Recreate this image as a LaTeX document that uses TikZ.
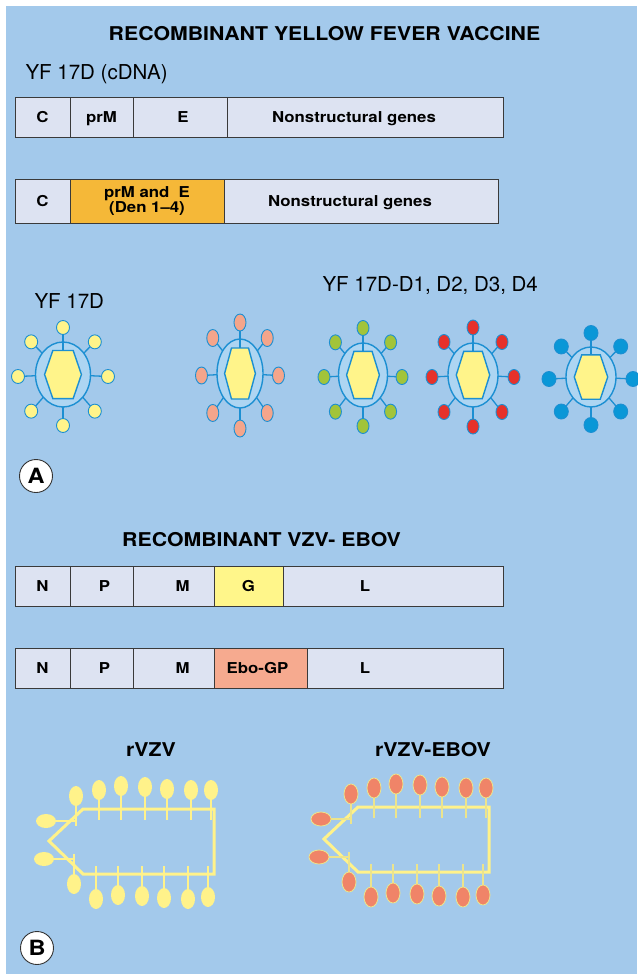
\documentclass[tikz,border=0pt]{standalone}
\usepackage{fontspec}
\setmainfont{TeX Gyre Heros}
\newfontfamily\boldheros[FakeStretch=1.12]{TeX Gyre Heros}
\usetikzlibrary{positioning}

\definecolor{bgBlue}{HTML}{A3C9EB}
\definecolor{envBlue}{HTML}{1C8FD2}
\definecolor{envFill}{HTML}{ADD5F2}
\definecolor{capsidYellow}{HTML}{FFF48A}
\definecolor{geneFill}{HTML}{DDE3F2}
\definecolor{geneLine}{HTML}{3A3A3A}
\definecolor{denOrange}{HTML}{F5B838}
\definecolor{gYellow}{HTML}{FFF68A}
\definecolor{eboSalmon}{HTML}{F6AA8F}
\definecolor{spikeSalmon}{HTML}{F4A58B}
\definecolor{spikeGreen}{HTML}{A2C43A}
\definecolor{spikeRed}{HTML}{E6312B}
\definecolor{spikeBlue}{HTML}{0A97D7}
\definecolor{vzvYellow}{HTML}{FFF28A}
\definecolor{eboSpike}{HTML}{F08468}
\definecolor{eboStem}{HTML}{ECE48C}

\tikzset{
    gene/.style={draw=geneLine, fill=geneFill, line width=1pt, minimum height=40,
        inner sep=0pt, outer sep=0pt, align=center, text height=10.5, text depth=0,
        font=\boldheros\bfseries\fontsize{15}{16}\selectfont},
    geneLabel/.style={text height=10.5, text depth=0, inner sep=0pt,
        font=\boldheros\bfseries\fontsize{15}{16}\selectfont},
    heading/.style={font=\boldheros\bfseries\fontsize{19}{21}\selectfont},
    caption/.style={font=\fontsize{20.5}{22}\selectfont},
    panelTag/.style={circle, draw=black!80, fill=white, line width=0.9pt,
        minimum size=33, inner sep=0pt, font=\boldheros\bfseries\fontsize{21}{21}\selectfont},
    envelope/.style={draw=envBlue, fill=envFill, line width=1.4pt},
    capsid/.style={draw=envBlue, fill=capsidYellow, line width=1.4pt},
    stemF/.style={draw=envBlue, line width=1.3pt},
    spikeF/.style={draw=envBlue, line width=0.9pt},
    vzvShell/.style={draw=vzvYellow, line width=3pt, line join=miter},
    vzvStem/.style={line width=1.5pt}
}

% flavivirus particle: #1,#2 centre, #3,#4 envelope radii,
% #5,#6 spike ring radii, #7 spike colour, #8,#9 spike radii
\newcommand{\flavivirus}[9]{%
    \foreach \ang in {0,45,...,315}
        \draw[stemF] (#1,#2) -- ([shift={(\ang:#5 and #6)}]#1,#2+2);
    \draw[envelope] (#1,#2) ellipse [x radius=#3, y radius=#4];
    \draw[capsid] (#1-0.67*#3,#2) -- (#1-0.37*#3,#2-0.74*#4) -- (#1+0.37*#3,#2-0.74*#4)
        -- (#1+0.67*#3,#2) -- (#1+0.37*#3,#2+0.74*#4) -- (#1-0.37*#3,#2+0.74*#4) -- cycle;
    \draw[stemF] (#1,#2-0.74*#4) -- (#1,#2-#4);
    \foreach \ang in {0,45,...,315}
        \filldraw[spikeF, fill=#7] ([shift={(\ang:#5 and #6)}]#1,#2+2) ellipse [x radius=#8, y radius=#9];
}

% herpesvirus particle: #1 spike fill, #2 stem colour, #3 spike outline
\newcommand{\herpesvirus}[3]{%
    \draw[vzvShell] (83,809) -- (214,809) -- (214,874) -- (83,874) -- (49,841) -- cycle;
    \foreach \x/\y in {99/790,121/786,145/787,167/789,191/790,211/790}
        \draw[vzvStem, draw=#2] (\x,\y) -- (\x,820);
    \foreach \x/\y in {96/899,118/895,142/896,164/898,188/899,208/897}
        \draw[vzvStem, draw=#2] (\x,\y) -- (\x,866);
    \draw[vzvStem, draw=#2] (76,796) -- (76,826);
    \draw[vzvStem, draw=#2] (74,884) -- (74,854);
    \draw[vzvStem, draw=#2] (46,821) -- (76,821);
    \draw[vzvStem, draw=#2] (44,859) -- (74,859);
    \foreach \x/\y in {99/790,121/786,145/787,167/789,191/790,211/790,
                       96/899,118/895,142/896,164/898,188/899,208/897,76/796,74/884}
        \filldraw[fill=#1, draw=#3, line width=0.8pt] (\x,\y) ellipse [x radius=7, y radius=10];
    \foreach \x/\y in {46/821,44/859}
        \filldraw[fill=#1, draw=#3, line width=0.8pt] (\x,\y) ellipse [x radius=10, y radius=7];
}

\begin{document}
\begin{tikzpicture}[x=1pt, y=-1pt]
    \useasboundingbox (0,0) rectangle (637,974);
    \fill[bgBlue] (6,6) rectangle (637,974);

    % panel A: yellow fever 17D backbone
    \node[heading] (yfTitle) at (324.5,33.5) {RECOMBINANT YELLOW FEVER VACCINE};
    \node[caption, anchor=base west] (yfcDNA) at (22,80) {YF 17D (cDNA)};

    \node[gene, minimum width=55, anchor=west] (yfC) at (15,117) {C};
    \node[gene, minimum width=63, right=0pt of yfC] (yfprM) {prM};
    \node[gene, minimum width=94, right=0pt of yfprM, label={[geneLabel, xshift=3]center:E}] (yfE) {};
    \node[gene, minimum width=276, right=0pt of yfE,
        label={[geneLabel, xshift=-11]center:Nonstructural genes}] (yfNS) {};

    \node[gene, minimum width=55, minimum height=44, anchor=west] (chC) at (15,201) {C};
    \node[gene, minimum width=154, minimum height=44, fill=denOrange, text height=, text depth=,
        right=0pt of chC] (chDen) {prM and~ E\\[-1pt](Den 1–4)};
    \node[gene, minimum width=274, minimum height=44, right=0pt of chDen,
        label={[geneLabel, xshift=-11]center:Nonstructural genes}] (chNS) {};

    \node[caption, anchor=base west] (yfName) at (31,308) {YF 17D};
    \node[caption, anchor=base west] (chName) at (319,291) {YF 17D-D1, D2, D3, D4};

    \flavivirus{63}{374.5}{27.5}{32.5}{45}{49}{capsidYellow}{6.5}{7}
    \flavivirus{240}{373.5}{23}{34.5}{38.5}{53}{spikeSalmon}{6}{8.5}
    \flavivirus{363}{375}{24.5}{32}{39}{49}{spikeGreen}{6}{7.5}
    \flavivirus{473}{375}{25}{32}{41}{49.5}{spikeRed}{6}{7.5}
    \flavivirus{591}{377}{25}{30}{42}{46}{spikeBlue}{7}{7.5}

    \node[panelTag] (tagA) at (36,476) {A};

    % panel B: varicella zoster backbone
    \node[heading] (vzvTitle) at (261.5,540) {RECOMBINANT VZV- EBOV};

    \node[gene, minimum width=55, anchor=west] (vzN) at (15,586) {N};
    \node[gene, minimum width=63, right=0pt of vzN, label={[geneLabel, xshift=3]center:P}] (vzP) {};
    \node[gene, minimum width=81, right=0pt of vzP, label={[geneLabel, xshift=9]center:M}] (vzM) {};
    \node[gene, minimum width=69, fill=gYellow, right=0pt of vzM] (vzG) {G};
    \node[gene, minimum width=220, right=0pt of vzG, label={[geneLabel, xshift=-28]center:L}] (vzL) {};

    \node[gene, minimum width=55, anchor=west] (ebN) at (15,668) {N};
    \node[gene, minimum width=63, right=0pt of ebN, label={[geneLabel, xshift=3]center:P}] (ebP) {};
    \node[gene, minimum width=81, right=0pt of ebP, label={[geneLabel, xshift=9]center:M}] (ebM) {};
    \node[gene, minimum width=93, fill=eboSalmon, right=0pt of ebM,
        label={[geneLabel, xshift=-3]center:Ebo-GP}] (ebGP) {};
    \node[gene, minimum width=196, right=0pt of ebGP, label={[geneLabel, xshift=-40]center:L}] (ebL) {};

    \node[heading] (vzvName) at (151,750) {rVZV};
    \node[heading] (eboName) at (433,750) {rVZV-EBOV};

    \herpesvirus{vzvYellow}{vzvYellow}{none}
    \begin{scope}[shift={(275,-2)}]
        \herpesvirus{eboSpike}{eboStem}{eboStem}
    \end{scope}

    \node[panelTag] (tagB) at (37,948) {B};
\end{tikzpicture}
\end{document}
